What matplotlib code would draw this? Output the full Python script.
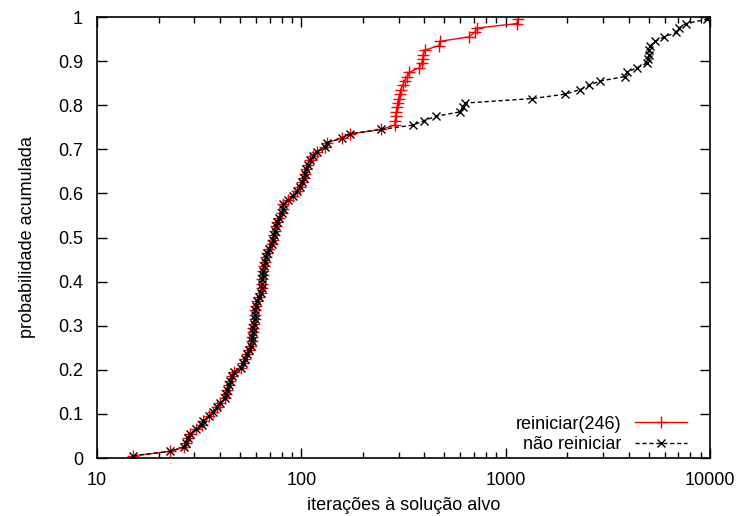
import matplotlib
matplotlib.use("Agg")
import matplotlib.pyplot as plt
import numpy as np
from matplotlib.ticker import LogLocator, FixedLocator, NullFormatter

plt.rcParams["font.family"] = ["Liberation Sans", "DejaVu Sans"]

# ---------------------------------------------------------------------------
# Data (iterations to target)
# ---------------------------------------------------------------------------
common_iters = [
    15.0, 22.8, 26.8, 27.3, 27.8, 28.6, 30.5, 32.5, 33.0, 35.5,
    37.0, 38.5, 40.0, 42.5, 43.0, 43.5, 44.3, 45.0, 46.0, 47.0,
    50.5, 52.0, 53.0, 54.5, 55.5, 56.5, 57.2, 57.6, 58.0, 58.3,
    58.6, 59.0, 59.3, 59.6, 60.0, 61.0, 62.0, 63.5, 64.0, 64.2,
    64.5, 64.8, 65.2, 65.8, 66.3, 67.0, 67.7, 69.5, 71.5, 72.7,
    73.5, 74.3, 75.0, 76.0, 78.0, 80.0, 81.0, 81.6, 86.0, 91.0,
    95.0, 98.0, 100.5, 102.5, 104.0, 105.5, 107.5, 110.0, 113.5, 119.0,
    131.0, 133.0, 158.0, 173.0, 246.0,
]
restart_tail = [
    286, 288, 290, 292, 294, 296, 299, 303, 307, 313,
    320, 330, 338, 378, 388, 392, 395, 402, 470, 478,
    660, 705, 725, 1130, 1150,
]
norestart_tail = [
    352, 398, 456, 600, 615, 635, 1346, 1950, 2300, 2550,
    2900, 3850, 3920, 4400, 4900, 4980, 5020, 5050, 5100, 5400,
    5950, 6850, 7050, 7600, 9700,
]

restart_x = np.array(common_iters + restart_tail)
norestart_x = np.array(common_iters + norestart_tail)
n = len(restart_x)
prob = (np.arange(1, n + 1) - 0.5) / n

y_ticks = [0, 0.1, 0.2, 0.3, 0.4, 0.5, 0.6, 0.7, 0.8, 0.9, 1]
y_labels = ["0", "0.1", "0.2", "0.3", "0.4", "0.5", "0.6", "0.7", "0.8", "0.9", "1"]

# ---------------------------------------------------------------------------
# Plot
# ---------------------------------------------------------------------------
fig = plt.figure(figsize=(7.37, 5.16), dpi=100)
ax = fig.add_axes([0.1316, 0.1124, 0.8318, 0.8546])

ax.plot(restart_x, prob, color="#ff0000", linewidth=1.0, marker="+",
        markersize=8, markeredgewidth=1.0, label="reiniciar(246)")
ax.plot(norestart_x, prob, color="black", linewidth=1.0, linestyle=(0, (3, 2)),
        marker="x", markersize=5.5, markeredgewidth=1.0, label="não reiniciar")

ax.set_xscale("log")
ax.set_xlim(10, 10000)
ax.set_ylim(0, 1)
ax.xaxis.set_major_locator(FixedLocator([10, 100, 1000, 10000]))
ax.xaxis.set_minor_locator(LogLocator(base=10, subs=np.arange(2, 10)))
ax.xaxis.set_minor_formatter(NullFormatter())
ax.set_xticks([10, 100, 1000, 10000])
ax.set_xticklabels(["10", "100", "1000", "10000"])
ax.set_yticks(y_ticks)
ax.set_yticklabels(y_labels)

ax.tick_params(which="both", direction="in", top=True, right=True,
               labelsize=13, colors="black")
ax.tick_params(which="major", length=7, width=1, pad=10)
ax.tick_params(which="minor", length=4, width=1)
for sp in ax.spines.values():
    sp.set_linewidth(1.2)

ax.set_xlabel("iterações à solução alvo", fontsize=13, labelpad=6)
ax.set_ylabel("probabilidade acumulada", fontsize=13, labelpad=16)

leg = ax.legend(loc="lower right", bbox_to_anchor=(0.974, -0.006), frameon=False,
                markerfirst=False, fontsize=13, handlelength=2.9,
                labelspacing=0.2, borderaxespad=0.0, handletextpad=0.7)
for t in leg.get_texts():
    t.set_ha("right")

fig.savefig("out.png", dpi=100)
